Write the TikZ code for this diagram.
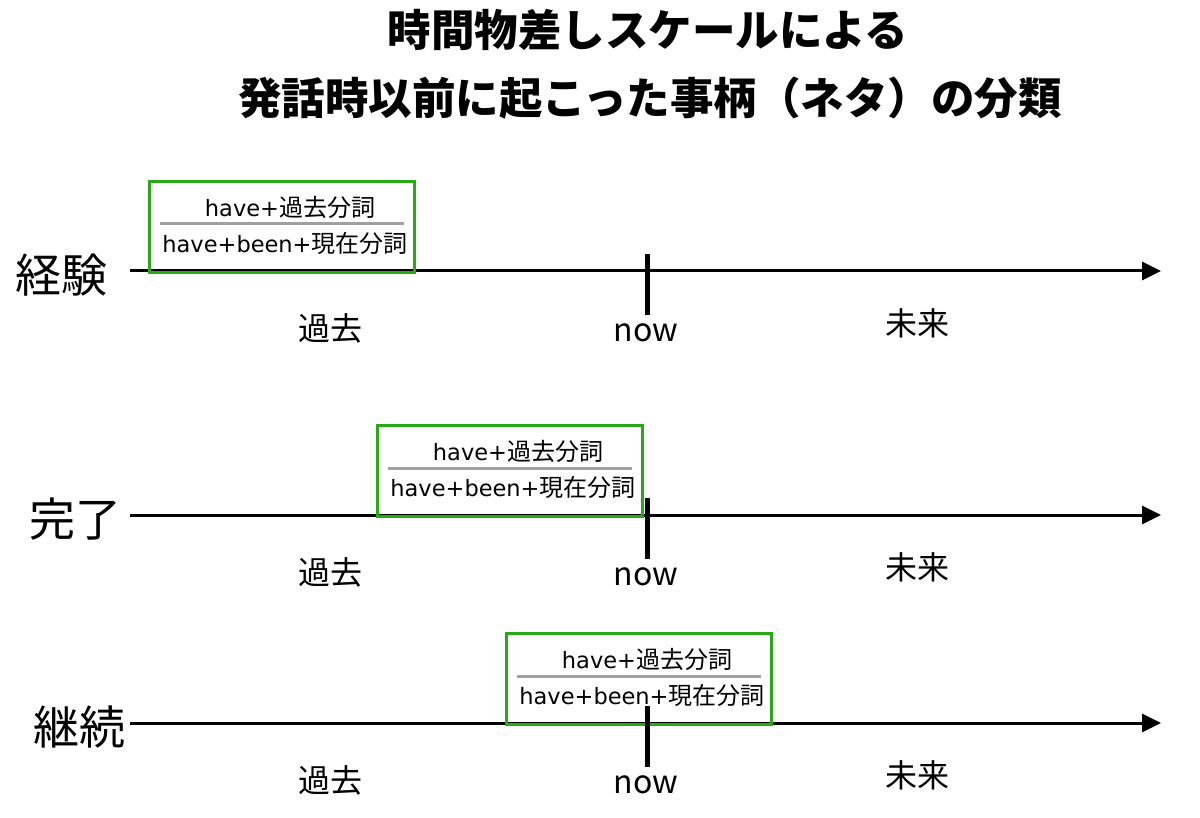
\documentclass[tikz,border=0pt]{standalone}
\usepackage{fontspec}
\setmainfont{Noto Sans CJK JP}
\newfontfamily\latinfont{DejaVu Sans}
\usetikzlibrary{arrows.meta}
\definecolor{boxgreen}{RGB}{40,170,20}
\definecolor{rulegray}{RGB}{160,160,160}
\newcommand{\lat}[1]{{\latinfont\fontsize{22.5}{24}\selectfont #1}}
\tikzset{
  axisline/.style={line width=3pt,-{Triangle[length=19pt,width=18pt]}},
  nowtick/.style={line width=5pt},
  gbox/.style={draw=boxgreen,line width=3pt,minimum width=265pt,minimum height=91pt,inner sep=0pt,anchor=north west},
  boxtext/.style={font=\fontsize{24}{26}\selectfont,inner sep=0pt},
  divider/.style={draw=rulegray,line width=3pt},
  rowlabel/.style={font=\fontsize{46}{50}\selectfont,inner sep=0pt},
  timelabel/.style={font=\fontsize{32}{36}\selectfont,inner sep=0pt},
  titletext/.style={font=\bfseries\fontsize{43.5}{46}\selectfont,inner sep=0pt}
}
\begin{document}
\begin{tikzpicture}[x=1pt,y=-1pt]
\useasboundingbox[fill=white] (0,0) rectangle (1200,818);
\node[titletext] (t1) at (648,30) {時間物差しスケールによる};
\node[titletext] (t2) at (650,98) {発話時以前に起こった事柄（ネタ）の分類};
\foreach \i/\y/\lab/\lx/\bx in {1/271/経験/62/148,2/515/完了/75/376,3/723/継続/80/505}{
  \coordinate (s\i) at (130,\y);
  \coordinate (e\i) at (1161,\y);
  \draw[axisline] (s\i) -- (e\i);
  \node[gbox] (b\i) at (\bx,\y-91) {};
  \coordinate (dl\i) at ([xshift=12pt,yshift=-44pt]b\i.north west);
  \coordinate (dr\i) at ([xshift=-12pt,yshift=-44pt]b\i.north east);
  \draw[divider] (dl\i) -- (dr\i);
  \node[boxtext] (p\i) at ([xshift=8pt,yshift=-27pt]b\i.north) {\lat{have+}過去分詞};
  \node[boxtext] (q\i) at ([xshift=3pt,yshift=-63pt]b\i.north) {\lat{have+been+}現在分詞};
  \coordinate (nt\i) at (647,\y-17);
  \coordinate (nb\i) at (647,\y+44);
  \draw[nowtick] (nt\i) -- (nb\i);
  \node[rowlabel] (l\i) at (\lx,\y+4) {\lab};
  \node[timelabel] (past\i) at (330,\y+57) {過去};
  \node[timelabel] (fut\i) at (917,\y+52) {未来};
  \node[timelabel] (now\i) at (646,\y+62) {now};
}
\end{tikzpicture}
\end{document}
